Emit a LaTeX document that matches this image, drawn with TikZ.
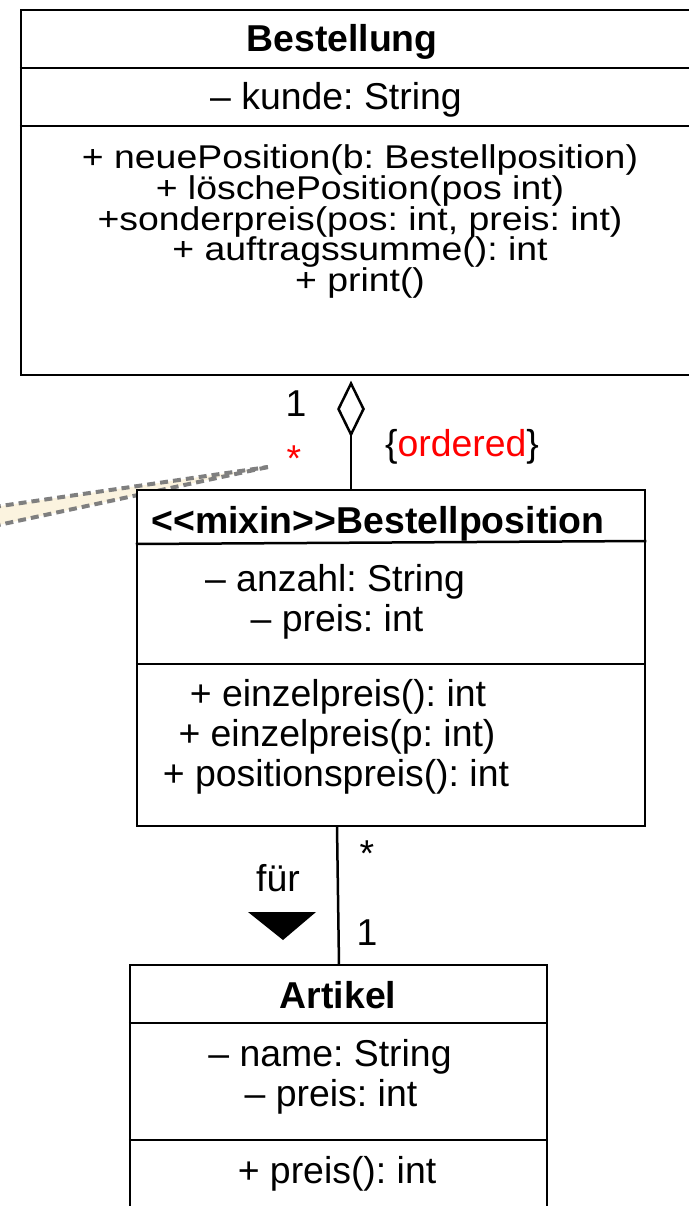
\documentclass[tikz,border=0pt]{standalone}
\usepackage{fontspec}
\setmainfont{Liberation Sans}
\usetikzlibrary{shapes.geometric}
\definecolor{notebg}{HTML}{FBF3DF}
\definecolor{dashgray}{HTML}{7F7F7F}
\newcommand{\vsq}[2]{\scalebox{1}[#1]{#2}}
\begin{document}
\frenchspacing
\begin{tikzpicture}[x=1pt,y=-1pt,
  umlbox/.style={draw=black, line width=2.5pt, fill=white, inner sep=0pt},
  txt/.style={inner sep=0pt, anchor=base, font=\fontsize{37.4pt}{40pt}\selectfont\frenchspacing},
  btxt/.style={txt, font=\fontsize{37.4pt}{40pt}\selectfont\bfseries},
  sep/.style={line width=2.5pt},
  conn/.style={line width=2.5pt},
  notelink/.style={dashgray, line width=4pt, dash pattern=on 8pt off 5pt}
]
\useasboundingbox (0,0) rectangle (688,1206);

% note pointer (wedge)
\coordinate (tip) at (268,467);
\coordinate (nA) at (-20,509);
\coordinate (nB) at (-20,529);
\fill[notebg] (nA) -- (tip) -- (nB) -- cycle;
\draw[notelink] (nA) -- (tip);
\draw[notelink] (nB) -- (tip);

% Bestellung
\node[umlbox, minimum width=679pt, minimum height=365pt] (best) at (360.5,192.5) {};
\draw[sep] (best.west |- 0,68) -- (best.east |- 0,68);
\draw[sep] (best.west |- 0,126) -- (best.east |- 0,126);
\node[btxt] (bestT) at (342,52) {Bestellung};
\node[txt] (bestA) at (336,110) {– kunde: String};
\node[txt] (bestO1) at (360,169) {\vsq{0.88}{+ neuePosition(b: Bestellposition)}};
\node[txt] (bestO2) at (360,200) {\vsq{0.88}{+ löschePosition(pos int)}};
\node[txt] (bestO3) at (360,230) {\vsq{0.88}{+sonderpreis(pos: int, preis: int)}};
\node[txt] (bestO4) at (360,260) {\vsq{0.88}{+ auftragssumme(): int}};
\node[txt] (bestO5) at (360,291) {\vsq{0.88}{+ print()}};

% Bestellposition
\node[umlbox, minimum width=508pt, minimum height=336pt] (pos) at (391,658) {};
\draw[sep] (pos.west |- 0,544) -- (pos.east |- 0,541);
\draw[sep] (pos.west |- 0,664) -- (pos.east |- 0,664);
\node[btxt] (posT) at (378,533) {<{}<mixin>{}>Bestellposition};
\node[txt] (posA1) at (335,591) {– anzahl: String};
\node[txt] (posA2) at (337,631) {– preis: int};
\node[txt] (posO1) at (338,706) {+ einzelpreis(): int};
\node[txt] (posO2) at (337,746) {+ einzelpreis(p: int)};
\node[txt] (posO3) at (336,786) {+ positionspreis(): int};

% Artikel
\node[umlbox, minimum width=417pt, minimum height=265pt] (art) at (338.5,1097.5) {};
\draw[sep] (art.west |- 0,1023) -- (art.east |- 0,1023);
\draw[sep] (art.west |- 0,1140) -- (art.east |- 0,1140);
\node[btxt] (artT) at (338,1008) {Artikel};
\node[txt] (artA1) at (330,1066) {– name: String};
\node[txt] (artA2) at (331,1106) {– preis: int};
\node[txt] (artO1) at (337,1183) {+ preis(): int};

% aggregation Bestellung -- Bestellposition
\node[draw=black, line width=2.5pt, fill=white, diamond, inner sep=0pt,
      minimum width=26pt, minimum height=52pt] (dia) at (351,409) {};
\draw[conn] (dia.south) -- (dia.south |- pos.north);
\node[txt] (m1) at (296,416) {1};
\node[txt, text=red] (m2) at (294,471) {*};
\node[txt] (ord) at (462,456) {\{\textcolor{red}{ordered}\}};

% association Bestellposition -- Artikel
\coordinate (c1) at (337,826);
\coordinate (c2) at (339,965);
\draw[conn] (c1) -- (c2);
\node[txt] (m3) at (367,866) {*};
\node[txt] (m4) at (367,945) {1};
\node[txt] (fuer) at (278,891) {für};
\fill[black] (248,912) -- (316,912) -- (283,940) -- cycle;
\end{tikzpicture}
\end{document}
